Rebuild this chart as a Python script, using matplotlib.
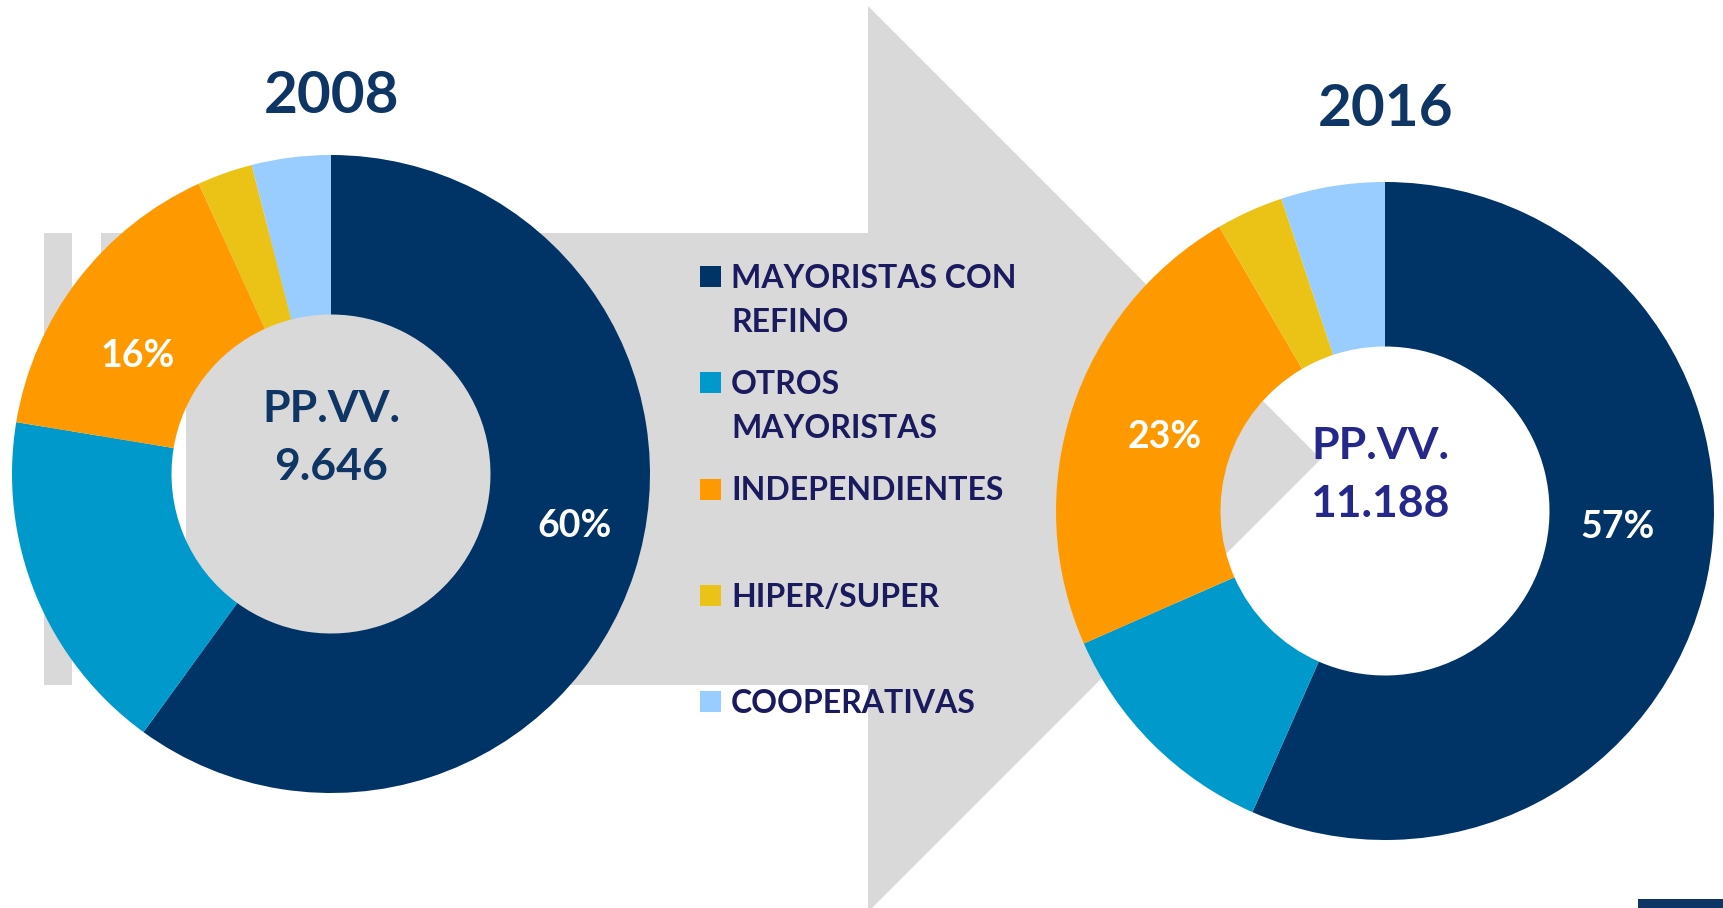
import numpy as np
import matplotlib.pyplot as plt
from matplotlib.patches import Polygon, Rectangle

plt.rcParams['font.family'] = ['Lato', 'DejaVu Sans']

# Data (share of service stations, %)
categories = ['MAYORISTAS CON\nREFINO', 'OTROS\nMAYORISTAS', 'INDEPENDIENTES',
              'HIPER/SUPER', 'COOPERATIVAS']
colors = ['#003366', '#0099CC', '#FF9900', '#EBC316', '#99CCFF']

share_2008 = [60.0, 17.6, 15.6, 2.8, 4.0]
share_2016 = [56.6, 11.8, 23.2, 3.3, 5.1]
labels_2008 = ['60%', '', '16%', '', '']
labels_2016 = ['57%', '', '23%', '', '']
total_2008 = '9.646'
total_2016 = '11.188'

W, H = 1723, 908
fig = plt.figure(figsize=(W / 100, H / 100), dpi=100)
ax = fig.add_axes([0, 0, 1, 1])


def fy(y):
    # pixel row (from top) -> data y
    return H - y


# Background grey "striped right arrow"
grey = '#D9D9D9'
left, top, bottom = 44, 6, 912
ss = bottom - top
body_top, body_bot = 233, 685
head_x, tip = 868, (1321, 459)
ax.add_patch(Rectangle((left, fy(body_bot)), ss / 32, body_bot - body_top, color=grey, lw=0, zorder=0))
ax.add_patch(Rectangle((left + ss / 16, fy(body_bot)), ss / 16, body_bot - body_top, color=grey, lw=0, zorder=0))
ax.add_patch(Rectangle((left + 5 * ss / 32, fy(body_bot)), head_x - left - 5 * ss / 32,
                       body_bot - body_top, color=grey, lw=0, zorder=0))
ax.add_patch(Polygon([(head_x, fy(top)), (tip[0], fy(tip[1])), (head_x, fy(bottom))],
                     closed=True, color=grey, lw=0, zorder=0))


def donut(shares, labels, total, cx, cy, r, year, year_base, txt_color, nudge, txt_dx=0):
    wedges, _ = ax.pie(shares, radius=r, center=(cx, fy(cy)), startangle=90,
                       counterclock=False, colors=colors,
                       wedgeprops=dict(width=0.5 * r, linewidth=0))
    for i, (w, lab) in enumerate(zip(wedges, labels)):
        if not lab:
            continue
        d_ang, rf = nudge.get(i, (0, 0.74))
        th = np.deg2rad((w.theta1 + w.theta2) / 2 - d_ang)
        ax.text(cx + rf * r * np.cos(th), fy(cy) + rf * r * np.sin(th), lab,
                ha='center', va='center', color='white', fontsize=27, fontweight='bold')
    ax.text(cx + txt_dx, fy(cy - 52), 'PP.VV.', ha='center', va='baseline',
            color=txt_color, fontsize=32, fontweight='bold')
    ax.text(cx + txt_dx, fy(cy + 6), total, ha='center', va='baseline',
            color=txt_color, fontsize=32, fontweight='bold')
    ax.text(cx, fy(year_base), year, ha='center', va='baseline',
            color='#0E3563', fontsize=42, fontweight='bold')


donut(share_2008, labels_2008, total_2008, 331, 474, 319, '2008', 113, '#0E3563',
      {0: (-6, 0.78), 2: (-6, 0.71)})
donut(share_2016, labels_2016, total_2016, 1385, 511, 329, '2016', 126, '#26278A',
      {0: (-8, 0.71), 2: (0.6, 0.705)}, txt_dx=-5)

# Legend (manual, to keep Excel-like marker on the first line)
leg_x, leg_y0, leg_step, line_step = 700, 266, 106.25, 44
for i, (cat, col) in enumerate(zip(categories, colors)):
    y = leg_y0 + i * leg_step
    ax.add_patch(Rectangle((leg_x, fy(y + 21)), 21, 21, color=col, lw=0))
    for k, line in enumerate(cat.split('\n')):
        ax.text(leg_x + 31, fy(y + 22 + k * line_step), line, ha='left', va='baseline',
                color='#1A1A5E', fontsize=23, fontweight='bold')

# cut-off logo corner at bottom right
ax.add_patch(Rectangle((1638, 0), W - 1638, 9, color='#0E3563', lw=0))

ax.set_xlim(0, W)
ax.set_ylim(0, H)
ax.set_aspect('equal')
ax.axis('off')

fig.savefig('out.png', dpi=100)
